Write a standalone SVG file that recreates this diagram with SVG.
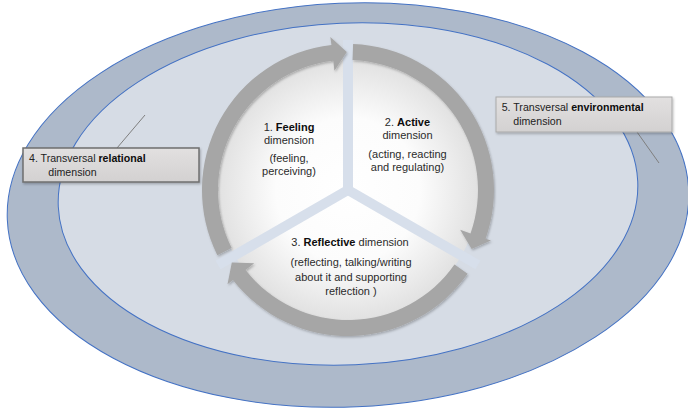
<svg xmlns="http://www.w3.org/2000/svg" width="688" height="409" viewBox="0 0 688 409">
  <defs>
    <radialGradient id="pieGrad" cx="348" cy="190" r="131" gradientUnits="userSpaceOnUse">
      <stop offset="0" stop-color="#ffffff"/>
      <stop offset="0.55" stop-color="#fcfcfc"/>
      <stop offset="1" stop-color="#e1e1e1"/>
    </radialGradient>
    <linearGradient id="boxGrad" x1="0" y1="0" x2="0" y2="1">
      <stop offset="0" stop-color="#e2e0e0"/>
      <stop offset="1" stop-color="#d3d1d1"/>
    </linearGradient>
    <filter id="shadow" x="-10%" y="-10%" width="130%" height="130%">
      <feDropShadow dx="1" dy="1.5" stdDeviation="1.2" flood-color="#000" flood-opacity="0.25"/>
    </filter>
  </defs>
  <style>
    .band { fill: #adb9ca; stroke: #4472c4; stroke-width: 1; }
    .inner { fill: #d6dce5; stroke: #4472c4; stroke-width: 1; }
    .gap { stroke: #d7dfeb; stroke-width: 10; fill: none; }
    .arrow { fill: #a6a6a6; }
    .leader { stroke: #7f7f7f; stroke-width: 1; fill: none; }
    .box { fill: url(#boxGrad); }
    .t { font-family: "Liberation Sans", Arial, sans-serif; font-size: 11px; fill: #2b2b2b; text-anchor: middle; }
    .bt { font-family: "Liberation Sans", Arial, sans-serif; font-size: 10.6px; fill: #222; }
    .b { font-weight: bold; fill: #0d0d0d; }
  </style>

  <g id="background">
    <ellipse class="band" cx="348" cy="205" rx="341" ry="202" transform="rotate(-2.5 348 205)"/>
    <ellipse class="inner" cx="348" cy="194" rx="290" ry="171" transform="rotate(-2.5 348 194)"/>
  </g>

  <g id="pie">
    <circle cx="348" cy="190" r="131" fill="url(#pieGrad)"/>
    <line class="gap" x1="348" y1="190" x2="348" y2="40"/>
    <line class="gap" x1="348" y1="190" x2="477.9" y2="265"/>
    <line class="gap" x1="348" y1="190" x2="218.1" y2="265"/>
    <circle cx="348" cy="190" r="5" fill="#d7dfeb"/>
  </g>

  <g id="connectors">
    <path class="arrow" filter="url(#shadow)" d="M217.34,255.15 A146,146 0 0 1 331.47,44.93 L330.34,37.0 L346.8,52.0 L334.42,70.77 L333.28,60.83 A130,130 0 0 0 231.66,248.01 Z"/>
    <path class="arrow" filter="url(#shadow)" d="M353.1,44.09 A146,146 0 0 1 485.62,238.73 L491.0,240.6 L471.66,248.98 L460.17,229.72 L470.54,233.39 A130,130 0 0 0 352.54,60.08 Z"/>
    <path class="arrow" filter="url(#shadow)" d="M467.6,273.74 A146,146 0 0 1 232.95,279.89 L227.5,284.2 L231.82,262.6 L254.23,263.27 L245.56,270.04 A130,130 0 0 0 454.49,264.57 Z"/>
    <line class="leader" x1="145" y1="115" x2="117" y2="148"/>
    <line class="leader" x1="637" y1="132" x2="659" y2="163"/>
  </g>

  <g id="seg1">
    <text class="t" x="289" y="130.5">1. <tspan class="b">Feeling</tspan></text>
    <text class="t" x="289" y="143.5">dimension</text>
    <text class="t" x="289" y="162">(feeling,</text>
    <text class="t" x="289" y="175">perceiving)</text>
  </g>

  <g id="seg2">
    <text class="t" x="407.5" y="126">2. <tspan class="b">Active</tspan></text>
    <text class="t" x="407.5" y="139">dimension</text>
    <text class="t" x="407.5" y="157.5">(acting, reacting</text>
    <text class="t" x="407.5" y="170.5">and regulating)</text>
  </g>

  <g id="seg3">
    <text class="t" x="350" y="245.5">3. <tspan class="b">Reflective</tspan> dimension</text>
    <text class="t" x="351" y="265.5">(reflecting, talking/writing</text>
    <text class="t" x="351" y="280.5">about it and supporting</text>
    <text class="t" x="351" y="294.5">reflection )</text>
  </g>

  <g id="box4">
    <rect class="box" x="23" y="148" width="176" height="34" stroke="#6f6f6f" stroke-width="1.5" filter="url(#shadow)"/>
    <text class="bt" x="29" y="162.3">4. Transversal <tspan class="b">relational</tspan></text>
    <text class="bt" x="48.3" y="176">dimension</text>
  </g>

  <g id="box5">
    <rect class="box" x="496" y="97" width="176" height="35" stroke="#a9a9a9" stroke-width="1" filter="url(#shadow)"/>
    <text class="bt" x="501.7" y="110.7">5. Transversal <tspan class="b">environmental</tspan></text>
    <text class="bt" x="513.3" y="125">dimension</text>
  </g>
</svg>
